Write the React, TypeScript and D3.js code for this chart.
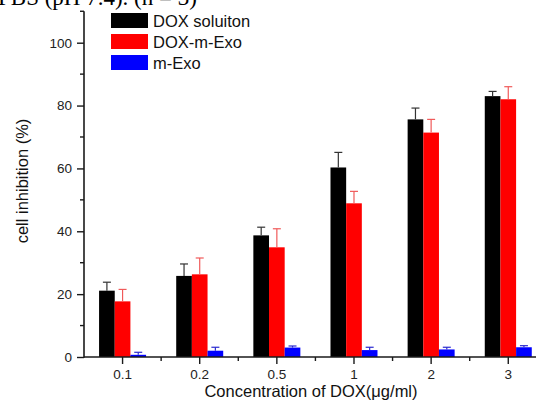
import * as d3 from "d3";
import { useEffect, useRef } from "react";

// data
const categories = ["0.1", "0.2", "0.5", "1", "2", "3"];
const seriesNames = ["DOX soluiton", "DOX-m-Exo", "m-Exo"];
const doxSolution = [21.1, 25.8, 38.7, 60.3, 75.6, 83.0];
const doxSolutionErr = [2.7, 3.8, 2.6, 4.8, 3.6, 1.5];
const doxMExo = [17.7, 26.3, 34.9, 48.9, 71.4, 82.0];
const doxMExoErr = [3.8, 5.2, 5.9, 3.8, 4.2, 4.0];
const mExo = [0.7, 2.0, 3.0, 2.2, 2.4, 3.1];
const mExoErr = [0.8, 1.1, 0.5, 0.9, 0.7, 0.5];
const yMajorTicks = [0, 20, 40, 60, 80, 100];
const yMinorTicks = [10, 30, 50, 70, 90, 110];

const barColors = ["#000000", "#ff0000", "#0000ff"];
const errColors = ["#333333", "#f05a5a", "#2a2ad0"];

export default function App() {
  const ref = useRef<SVGSVGElement>(null);

  useEffect(() => {
    const width = 536;
    const x0 = 84;
    const y0 = 357;
    const font = "'Liberation Sans', Arial, sans-serif";

    const svg = d3.select(ref.current);
    svg.selectAll("*").remove();

    const values = [doxSolution, doxMExo, mExo];
    const errs = [doxSolutionErr, doxMExoErr, mExoErr];

    // --- scales ---
    const x = d3.scaleBand<string>()
      .domain(categories)
      .range([x0, x0 + 77.14 * categories.length])
      .padding(0);

    const xSub = d3.scaleBand<string>()
      .domain(seriesNames)
      .range([x.bandwidth() / 2 - 23.5, x.bandwidth() / 2 + 23.5]);

    const y = d3.scaleLinear().domain([0, 110]).range([y0, y0 - 110 * 3.143]);

    // --- caption remnant at top (cut off in the source) ---
    svg.append("text")
      .attr("x", -2)
      .attr("y", 5)
      .attr("font-family", "'Liberation Serif', 'Times New Roman', serif")
      .attr("font-size", 23)
      .attr("fill", "#000")
      .text("PBS (pH 7.4). (n = 3)");

    // --- bars ---
    values.forEach((vals, s) => {
      const g = svg.append("g");
      g.selectAll("rect")
        .data(vals)
        .join("rect")
        .attr("x", (d, i) => x(categories[i])! + xSub(seriesNames[s])!)
        .attr("y", d => y(d))
        .attr("width", xSub.bandwidth())
        .attr("height", d => y(0) - y(d))
        .attr("fill", barColors[s]);

      // error bars, upper half only
      const e = svg.append("g")
        .attr("stroke", errColors[s])
        .attr("stroke-width", 1.2);
      vals.forEach((v, i) => {
        const cx = x(categories[i])! + xSub(seriesNames[s])! + xSub.bandwidth() / 2;
        const top = y(v + errs[s][i]);
        e.append("line").attr("x1", cx).attr("x2", cx).attr("y1", y(v)).attr("y2", top);
        e.append("line").attr("x1", cx - 4).attr("x2", cx + 4).attr("y1", top).attr("y2", top);
      });
    });

    // --- axes ---
    const axisColor = "#1a1a1a";

    // y axis
    const yAxis = svg.append("g").attr("transform", `translate(${x0},0)`);
    yAxis.call(d3.axisLeft(y).tickValues(yMajorTicks).tickSize(7).tickPadding(5).tickSizeOuter(0))
      .call(g => g.select(".domain").remove());
    yAxis.selectAll(".tick line").attr("stroke", axisColor).attr("stroke-width", 1.4);
    yAxis.selectAll("text")
      .attr("font-family", font)
      .attr("font-size", 13.5)
      .attr("fill", "#222");
    yAxis.selectAll(".minor")
      .data(yMinorTicks)
      .join("line")
      .attr("x1", -4).attr("x2", 0)
      .attr("y1", d => y(d)).attr("y2", d => y(d))
      .attr("stroke", axisColor).attr("stroke-width", 1.4);
    yAxis.append("line")
      .attr("x1", 0).attr("x2", 0)
      .attr("y1", y(110)).attr("y2", y0 + 0.7)
      .attr("stroke", axisColor).attr("stroke-width", 1.6);

    // x axis
    const xAxis = svg.append("g").attr("transform", `translate(0,${y0})`);
    xAxis.call(d3.axisBottom(x).tickSize(7).tickPadding(5).tickSizeOuter(0))
      .call(g => g.select(".domain").remove());
    xAxis.selectAll(".tick line").attr("stroke", axisColor).attr("stroke-width", 1.4);
    xAxis.selectAll("text")
      .attr("font-family", font)
      .attr("font-size", 13.5)
      .attr("fill", "#222");
    xAxis.selectAll(".minor")
      .data(categories.slice(1))
      .join("line")
      .attr("x1", d => x(d)!).attr("x2", d => x(d)!)
      .attr("y1", 0).attr("y2", 4)
      .attr("stroke", axisColor).attr("stroke-width", 1.4);
    xAxis.append("line")
      .attr("x1", x0).attr("x2", width)
      .attr("y1", 0).attr("y2", 0)
      .attr("stroke", axisColor).attr("stroke-width", 1.6);

    // axis titles
    svg.append("text")
      .attr("x", 311)
      .attr("y", 397)
      .attr("text-anchor", "middle")
      .attr("font-family", font)
      .attr("font-size", 16.5)
      .attr("fill", "#111")
      .text("Concentration of DOX(\u03bcg/ml)");

    svg.append("text")
      .attr("transform", `translate(28,181) rotate(-90)`)
      .attr("text-anchor", "middle")
      .attr("font-family", font)
      .attr("font-size", 16.5)
      .attr("fill", "#111")
      .text("cell inhibition (%)");

    // --- legend ---
    const legend = svg.append("g").attr("transform", "translate(111,13)");
    seriesNames.forEach((name, i) => {
      legend.append("rect")
        .attr("x", 0).attr("y", i * 21)
        .attr("width", 37).attr("height", 15)
        .attr("fill", barColors[i]);
      legend.append("text")
        .attr("x", 42).attr("y", i * 21 + 13.5)
        .attr("font-family", font)
        .attr("font-size", 16.5)
        .attr("fill", "#111")
        .text(name);
    });
  }, []);

  return (
    <svg
      ref={ref}
      width={536}
      height={405}
      style={{ position: "absolute", left: 0, top: 0, background: "#fff" }}
    />
  );
}
